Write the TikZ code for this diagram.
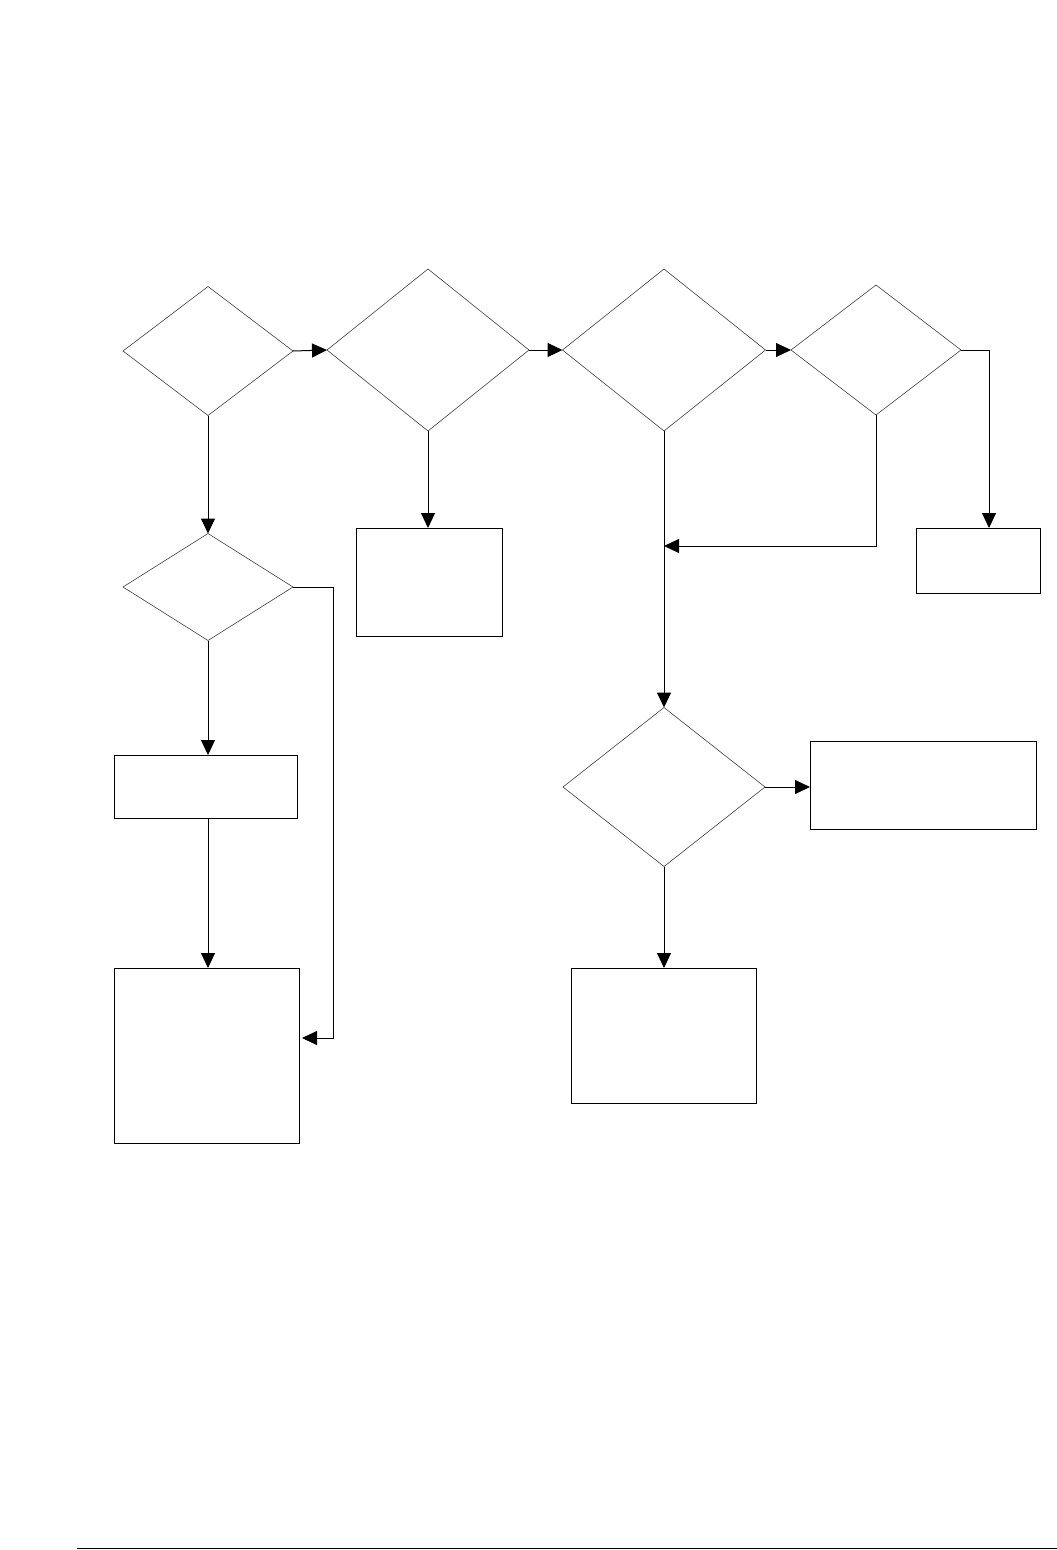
\documentclass[tikz,border=0pt]{standalone}
\usetikzlibrary{shapes.geometric,arrows.meta}
\begin{document}
\begin{tikzpicture}[x=1pt,y=-1pt,
  dec/.style={draw=black!75,line width=0.6pt,diamond,inner sep=0pt,outer sep=0pt},
  box/.style={draw=black,line width=1pt,rectangle,inner sep=0pt,outer sep=0pt},
  arr/.style={draw=black,line width=1pt,-{Triangle[length=15pt,width=14pt]}}]
\useasboundingbox (0,0) rectangle (1057,1550);
% decisions
\node[dec,minimum width=170pt,minimum height=129pt] (D1) at (208,351) {};
\node[dec,minimum width=202pt,minimum height=162pt] (D2) at (428,350) {};
\node[dec,minimum width=203pt,minimum height=162pt] (D3) at (664,350) {};
\node[dec,minimum width=170pt,minimum height=130pt] (D4) at (876,350) {};
\node[dec,minimum width=170pt,minimum height=107pt] (D6) at (208,587) {};
\node[dec,minimum width=202pt,minimum height=159pt] (D5) at (664,787) {};
% boxes
\node[box,minimum width=146pt,minimum height=108pt] (B1) at (429,582) {};
\node[box,minimum width=124pt,minimum height=65pt] (B4) at (978,560.5) {};
\node[box,minimum width=183pt,minimum height=63pt] (B2) at (205.5,786.5) {};
\node[box,minimum width=185pt,minimum height=175pt] (B3) at (206.5,1055.5) {};
\node[box,minimum width=226pt,minimum height=88pt] (B5) at (923,785) {};
\node[box,minimum width=185pt,minimum height=135pt] (B6) at (663.5,1035.5) {};
% helper coordinates
\coordinate (J) at (664,546);
\coordinate (K) at (333,587);
% connectors
\draw[arr] (D1.east) -- (D2.west);
\draw[arr] (D2.east) -- (D3.west);
\draw[arr] (D3.east) -- (D4.west);
\draw[arr] (D4.east) -| ([xshift=11pt]B4.north);
\draw[arr] (D4.south) |- (J);
\draw[arr] (D3.south) -- (D5.north);
\draw[arr] (D5.east) -- (D5.east -| B5.west);
\draw[arr] (D5.south) -- (D5.south |- B6.north);
\draw[arr] (D2.south) -- (D2.south |- B1.north);
\draw[arr] (D1.south) -- (D6.north);
\draw[arr] (D6.south) -- (D6.south |- B2.north);
\draw[arr] (D6.south |- B2.south) -- (D6.south |- B3.north);
\draw[arr,shorten >=3pt] (D6.east) -- (K) |- ([yshift=17.5pt]B3.east);
% footer rule
\coordinate (F1) at (77,1548.5);
\coordinate (F2) at (1057,1548.5);
\draw[line width=1pt] (F1) -- (F2);
\end{tikzpicture}
\end{document}
